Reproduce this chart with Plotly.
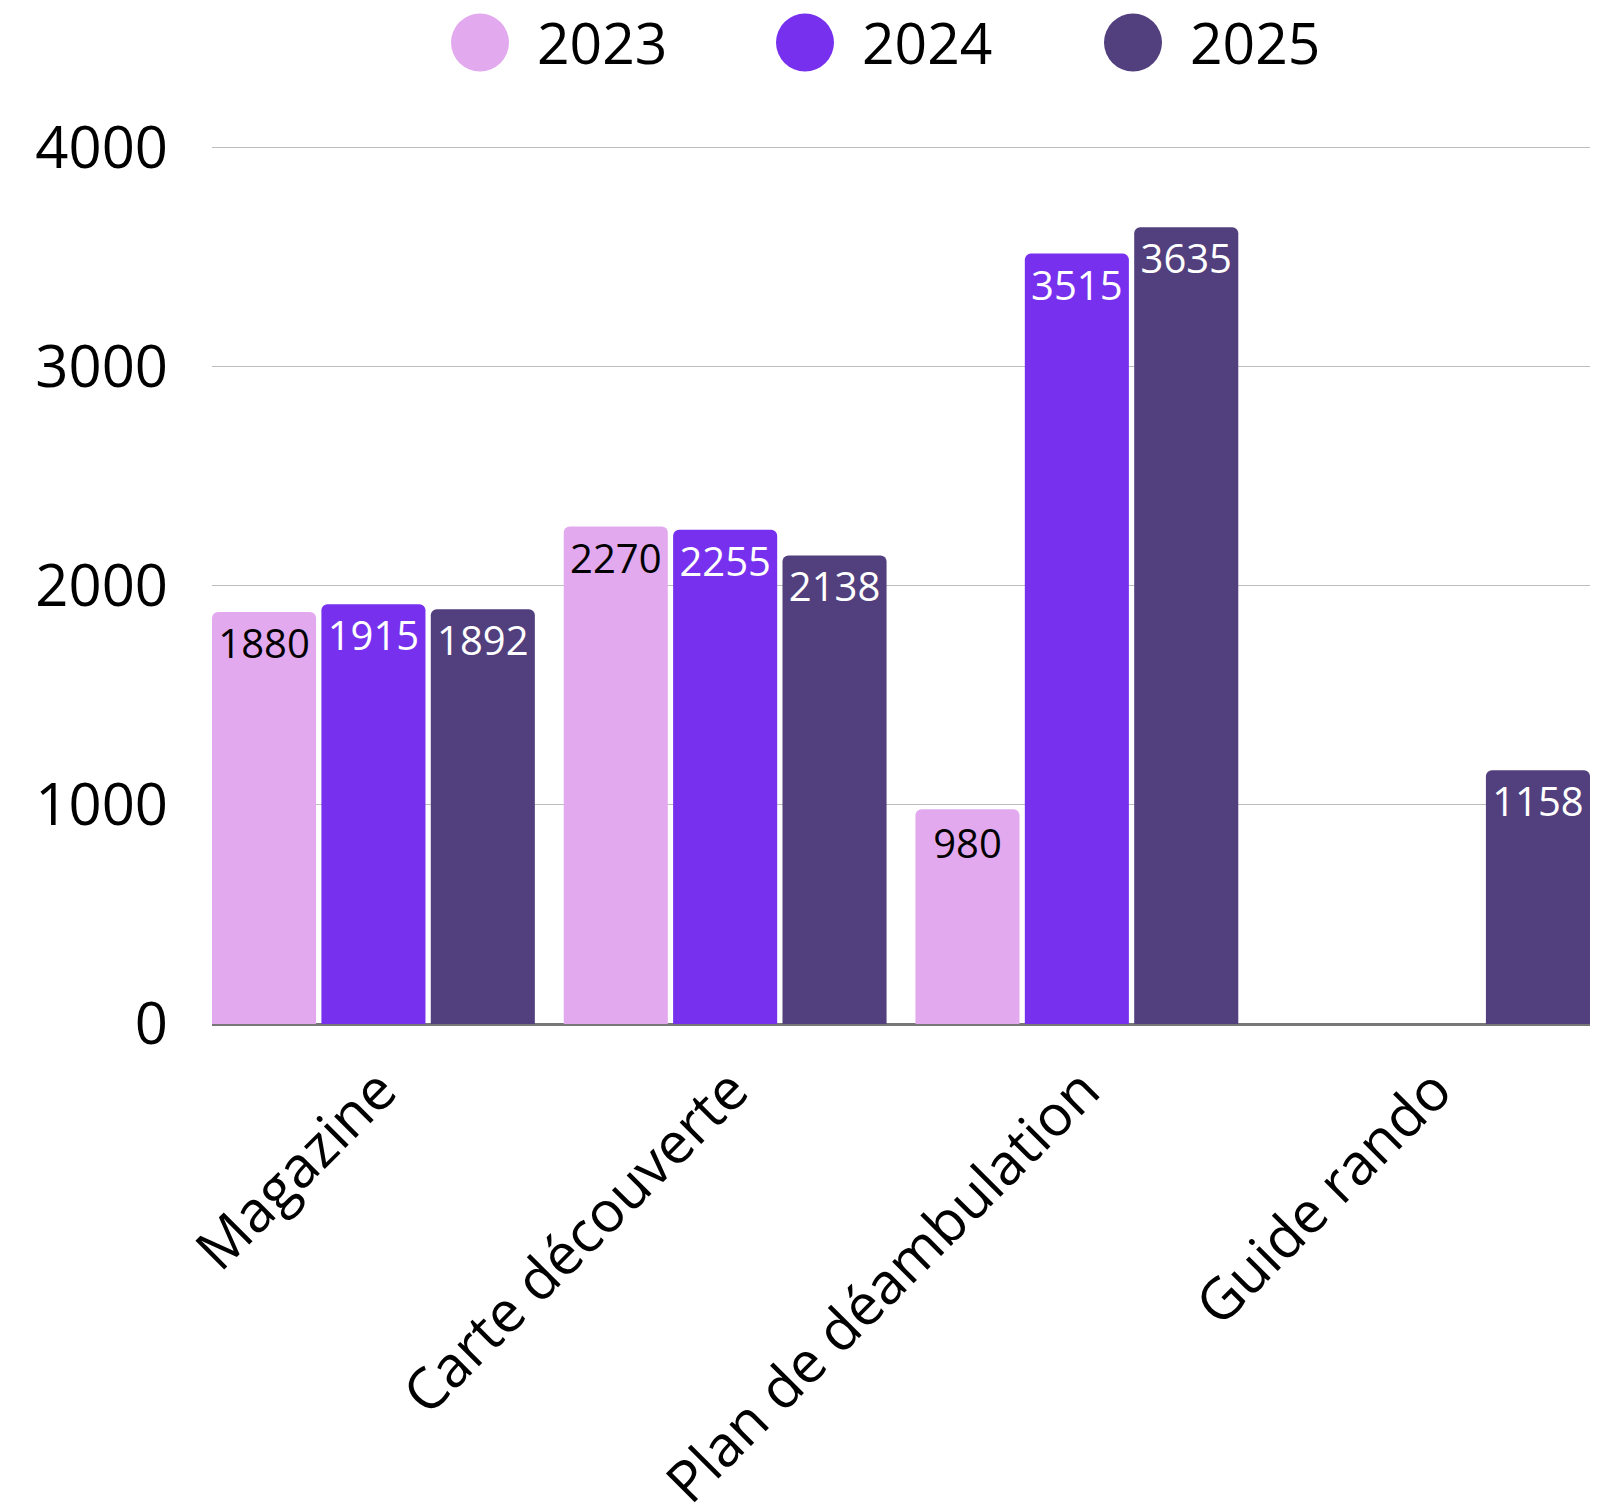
import plotly.graph_objects as go

categories = ["Magazine", "Carte découverte", "Plan de déambulation", "Guide rando"]
series_names = ["2023", "2024", "2025"]
values_2023 = [1880, 2270, 980, None]
values_2024 = [1915, 2255, 3515, None]
values_2025 = [1892, 2138, 3635, 1158]
series_values = [values_2023, values_2024, values_2025]
colors = ["#E2A9EF", "#7731EE", "#523F7E"]
label_colors = ["#000000", "#FFFFFF", "#FFFFFF"]
y_ticks = [0, 1000, 2000, 3000, 4000]

FONT = "Open Sans"
W, H = 1618, 1505
ml, mr, mt, mb = 212, 28, 139, 481
pw, ph = W - ml - mr, H - mt - mb

fig = go.Figure()
for name, vals, col, lc in zip(series_names, series_values, colors, label_colors):
    fig.add_trace(go.Bar(
        x=categories, y=vals, name=name,
        marker=dict(color=col, line=dict(width=0)),
        text=[("" if v is None else str(v)) for v in vals],
        textposition="inside", insidetextanchor="end",
        constraintext="none", textangle=0,
        textfont=dict(family=FONT, size=40, color=lc),
        showlegend=False,
    ))

# custom legend (large circles)
leg_circle_px = [480, 805, 1133]
leg_text_px = [535, 860, 1188]
leg_y_px = 42.5
ypaper = (H - mb - leg_y_px) / ph
r = 29
for name, col, cx, tx in zip(series_names, colors, leg_circle_px, leg_text_px):
    xpaper = (cx - ml) / pw
    fig.add_shape(type="circle", xref="paper", yref="paper",
                  xsizemode="pixel", ysizemode="pixel",
                  xanchor=xpaper, yanchor=ypaper,
                  x0=-r, x1=r, y0=-r, y1=r,
                  fillcolor=col, line=dict(width=0))
    fig.add_annotation(text=name, xref="paper", yref="paper",
                       x=(tx - ml) / pw, y=ypaper, xanchor="left", yanchor="middle",
                       showarrow=False, font=dict(family=FONT, size=57, color="#000000"))

fig.update_layout(
    width=W, height=H,
    margin=dict(l=ml, r=mr, t=mt, b=mb, pad=0, autoexpand=False),
    paper_bgcolor="white", plot_bgcolor="white",
    barmode="group", bargap=0.067, bargroupgap=0.0485,
    barcornerradius=6,
    font=dict(family=FONT, color="#000000"),
    xaxis=dict(
        range=[-0.459, 3.459], tickangle=-45, automargin=False,
        tickfont=dict(family=FONT, size=57, color="#000000"),
        showgrid=False, showline=True, linecolor="#777777", linewidth=2,
        ticks="", fixedrange=True, ticklabelshift=6, ticklabelstandoff=8,
    ),
    yaxis=dict(
        range=[0, 4038], tickvals=y_ticks, ticktext=[str(t) for t in y_ticks],
        automargin=False,
        tickfont=dict(family=FONT, size=58, color="#000000"),
        showgrid=True, gridcolor="#BDBDBD", gridwidth=1,
        zeroline=True, zerolinecolor="#777777", zerolinewidth=2,
        showline=False, ticks="", ticklabelstandoff=43, fixedrange=True,
    ),
)

fig.write_html("out.html", config={"displayModeBar": False, "staticPlot": True},
               post_script="document.body.style.margin='0';")
